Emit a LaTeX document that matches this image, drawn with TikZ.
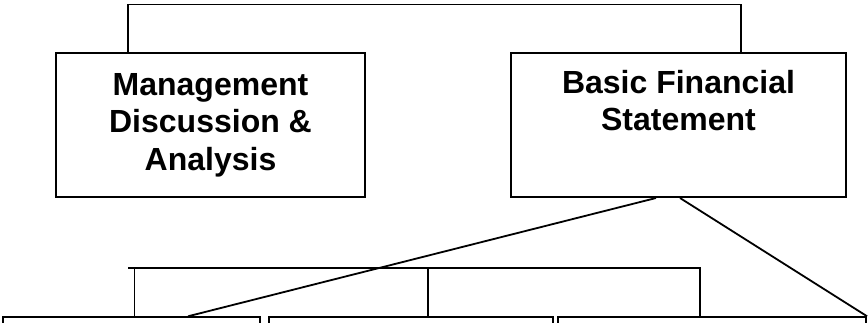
\documentclass[tikz,border=0pt]{standalone}
\usepackage{fontspec}
\setmainfont{Liberation Sans}
\usetikzlibrary{positioning, calc}

\begin{document}
\begin{tikzpicture}[
    x=0.5pt, y=-0.5pt,
    font=\bfseries\fontsize{16}{18.75}\selectfont,
    box/.style={rectangle, draw=black, line width=1pt, fill=white, align=center, inner sep=0pt},
    topbox/.style={box, minimum height=72pt},
    leaf/.style={box, anchor=north, minimum height=60pt},
    link/.style={draw=black, line width=0.9pt}
]
\path[use as bounding box, clip] (0,0) rectangle (868,322);

\node[topbox, minimum width=154.5pt] (mda) at (210.5, 125) {Management\\Discussion \&\\Analysis};
\node[topbox, minimum width=167.5pt] (bfs) at (678.5, 125) {Basic Financial\\Statement\\\strut};

\node[leaf, minimum width=128.7pt] (leaf1) at (131.3, 316.3) {};
\node[leaf, minimum width=142pt] (leaf2) at (411.3, 316.3) {};
\node[leaf, minimum width=154.2pt] (leaf3) at (711.9, 316.3) {};

% top bracket joining the two statements
\coordinate (top) at (0, 4.5);
\draw[link] ([xshift=-41.25pt]mda.north) -- ([xshift=-41.25pt]mda.north |- top)
    -| ([xshift=31.25pt]bfs.north);

% bus over the three leaves
\coordinate (busL) at (128, 268.3);
\draw[link] (busL) -| ([xshift=-5.95pt]leaf3.north);
\draw[link] ([xshift=1.6pt]leaf1.north) -- ([xshift=1.6pt]leaf1.north |- busL);
\draw[link] ([xshift=8.35pt]leaf2.north) -- ([xshift=8.35pt]leaf2.north |- busL);

% fan out from the financial statement
\draw[link] ([xshift=-11.25pt]bfs.south) -- ([xshift=28.35pt]leaf1.north);
\draw[link] ([xshift=0.75pt]bfs.south) -- (leaf3.north east);
\end{tikzpicture}
\end{document}
